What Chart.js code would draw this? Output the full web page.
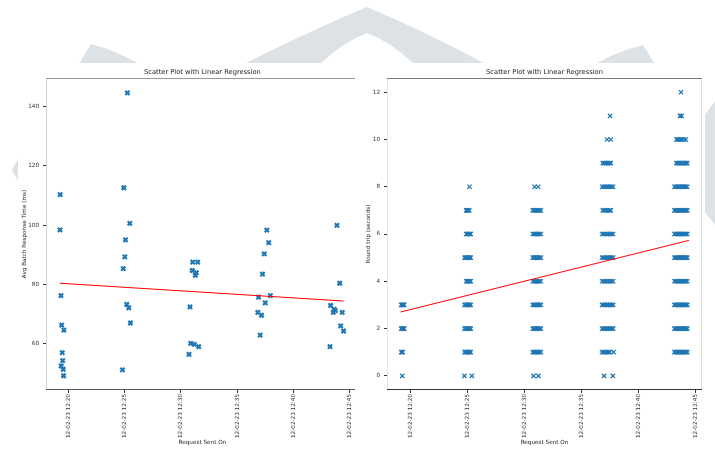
<!DOCTYPE html>
<html>
<head>
<meta charset="utf-8">
<script src="https://cdn.jsdelivr.net/npm/chart.js@4.4.1/dist/chart.umd.min.js"></script>
<style>
  html, body { margin: 0; padding: 0; background: #fff; }
  #page { position: relative; width: 715px; height: 450px; overflow: hidden; background: #fff; }
  #mark { position: absolute; left: 0; top: 0; }
  #left { position: absolute; left: 0; top: 0; }
  #right { position: absolute; left: 355px; top: 0; }
</style>
</head>
<body>
<div id="page">
  <svg id="mark" width="715" height="450" viewBox="0 0 715 450">
    <defs>
      <!-- the page backdrop only shows around the white sheet holding both plots -->
      <clipPath id="outside">
        <path clip-rule="evenodd" d="M0 0 H715 V450 H0 Z M18 63 V450 H705 V63 Z"/>
      </clipPath>
    </defs>
    <g fill="#dce2e5" clip-path="url(#outside)">
      <path d="M367 7 Q300 35 212 80 L305 80 Q335 45 367 33 Q399 45 429 80 L515 80 Q434 35 367 7 Z"/>
      <path d="M91 44 L74 72 L152 72 Q122 52 91 44 Z"/>
      <path d="M643 45 L660 72 L582 72 Q612 52 643 45 Z"/>
      <path d="M28 142 L11.7 170 L28 198 Z"/>
      <path d="M698 124 L716 100 L716 226 L698 204 Z"/>
    </g>
  </svg>
  <canvas id="left" width="365" height="450"></canvas>
  <canvas id="right" width="360" height="450"></canvas>
</div>
<script>
// Request times are minutes past 12:00 on 12-02-23.
const timeTicks = [20, 25, 30, 35, 40, 45];
const timeTickLabels = ['12-02-23 12:20', '12-02-23 12:25', '12-02-23 12:30',
                        '12-02-23 12:35', '12-02-23 12:40', '12-02-23 12:45'];

// Average batch response time per request (ms)
const batchSentAt = [
  19.29, 19.27, 19.36, 19.42, 19.62, 19.47, 19.51, 19.38, 19.56, 19.59,
  25.26, 24.94, 25.47, 25.09, 25.03, 24.89, 25.20, 25.38, 25.53, 24.82,
  31.06, 31.50, 31.02, 31.38, 31.29, 30.82, 30.88, 31.20, 31.59, 30.73,
  37.64, 37.81, 37.41, 37.26, 36.90, 37.96, 37.50, 36.84, 37.17, 37.05,
  43.87, 44.11, 43.31, 43.72, 43.54, 43.62, 44.34, 44.20, 44.46, 43.25
];
const batchAvgMs = [
  110.3, 98.4, 76.2, 66.3, 64.6, 57.0, 54.3, 52.5, 51.4, 49.2,
  144.6, 112.6, 100.6, 95.0, 89.3, 85.3, 73.3, 72.1, 67.0, 51.2,
  87.5, 87.5, 84.7, 84.0, 83.1, 72.4, 60.1, 59.8, 59.0, 56.4,
  98.3, 94.1, 90.3, 83.5, 75.7, 76.2, 73.8, 70.6, 69.6, 62.9,
  99.9, 80.4, 72.9, 71.2, 70.6, 71.6, 70.6, 66.0, 64.3, 59.0
];
const batchFitAt = [19.27, 44.46];
const batchFitMs = [80.4, 74.4];
const batchTicks = [60, 80, 100, 120, 140];

// Request times within each burst
const burst1220 = [19.21, 19.27, 19.34, 19.41, 19.47];
const burst1225 = [24.77, 24.86, 24.95, 25.04, 25.13, 25.22, 25.31];
const burst1231 = [30.76, 30.88, 30.99, 31.11, 31.23, 31.34, 31.46];
const burst1237 = [36.84, 36.98, 37.12, 37.26, 37.40, 37.54, 37.67, 37.81];
const burst1244 = [43.19, 43.30, 43.42, 43.53, 43.64, 43.76, 43.87, 43.98, 44.10, 44.21, 44.32];

// Round trip (whole seconds) -> request times
const trip1220 = {
  3: burst1220,
  2: burst1220,
  1: [19.21, 19.27, 19.34],
  0: [19.30]
};
const trip1225 = {
  8: [25.20],
  7: [24.91, 25.00, 25.09, 25.18],
  6: [24.91, 25.00, 25.09, 25.18, 25.27, 25.31],
  5: burst1225,
  4: [24.91, 25.00, 25.09, 25.18, 25.27, 25.31],
  3: burst1225,
  2: burst1225,
  1: burst1225,
  0: [24.76, 25.41]
};
const trip1231 = {
  8: [30.91, 31.23],
  7: burst1231, 6: burst1231, 5: burst1231, 4: burst1231,
  3: burst1231, 2: burst1231, 1: burst1231,
  0: [30.82, 31.25]
};
const trip1237 = {
  11: [37.54],
  10: [37.28, 37.60],
  9: [36.90, 37.05, 37.20, 37.35, 37.50, 37.60],
  8: burst1237,
  7: [36.90, 37.05, 37.20, 37.35, 37.50, 37.60],
  6: burst1237, 5: burst1237, 4: burst1237, 3: burst1237, 2: burst1237,
  1: [36.84, 36.98, 37.12, 37.26, 37.40, 37.50, 37.84],
  0: [37.02, 37.78]
};
const trip1244 = {
  12: [43.77],
  11: [43.68, 43.82],
  10: [43.36, 43.48, 43.60, 43.72, 43.84, 44.02, 44.20],
  9: [43.36, 43.48, 43.60, 43.72, 43.84, 43.97, 44.10, 44.21, 44.32],
  8: burst1244, 7: burst1244, 6: burst1244, 5: burst1244,
  4: burst1244, 3: burst1244, 2: burst1244, 1: burst1244
};
const tripBursts = [trip1220, trip1225, trip1231, trip1237, trip1244];
const tripFitAt = [19.15, 44.46];
const tripFitSec = [2.70, 5.73];
const tripTicks = [0, 2, 4, 6, 8, 10, 12];

const FONT = 'DejaVu Sans, Liberation Sans, sans-serif';
const BLUE = '#1f77b4';

const batchPoints = batchSentAt.map((t, i) => ({ x: t, y: batchAvgMs[i] }));
const tripPoints = [];
tripBursts.forEach(b => Object.keys(b).forEach(sec =>
  b[sec].forEach(t => tripPoints.push({ x: t, y: Number(sec) }))));
const pairs = (xs, ys) => xs.map((x, i) => ({ x, y: ys[i] }));

// matplotlib-like frame, each spine with its own tone
function framePlugin(c) {
  return {
    id: 'frame',
    beforeDraw(chart) {
      const { ctx, width, height } = chart;
      ctx.save();
      ctx.fillStyle = '#ffffff';
      ctx.fillRect(c.sheetLeft, 63, width - c.sheetLeft - c.sheetRight, height - 63);
      ctx.restore();
    },
    afterDatasetsDraw(chart) {
      const { ctx, chartArea: a } = chart;
      const L = Math.round(a.left) + 0.5, R = Math.round(a.right) - 0.5;
      const T = Math.round(a.top) + 0.5, B = Math.round(a.bottom) - 0.5;
      const seg = (x1, y1, x2, y2, col) => {
        ctx.beginPath(); ctx.moveTo(x1, y1); ctx.lineTo(x2, y2);
        ctx.strokeStyle = col; ctx.lineWidth = 1; ctx.stroke();
      };
      ctx.save();
      seg(L, T, L, B, c.left);
      seg(R, T, R, B, c.right);
      seg(L - 0.5, T, R + 0.5, T, c.top);
      seg(L - 0.5, B, R + 0.5, B, c.bottom);
      ctx.restore();
    }
  };
}

function makeChart(el, o) {
  return new Chart(el, {
    type: 'scatter',
    data: {
      datasets: [
        {
          data: o.fit, showLine: true, borderColor: '#ff0000', borderWidth: 1,
          pointRadius: 0, fill: false
        },
        {
          data: o.points, pointStyle: 'crossRot', pointRadius: o.radius,
          pointBorderWidth: o.stroke, borderColor: BLUE, backgroundColor: BLUE,
          pointBorderColor: BLUE
        }
      ]
    },
    options: {
      responsive: false,
      animation: false,
      events: [],
      layout: { padding: { left: 0, right: o.padRight, top: 0, bottom: 0 } },
      plugins: {
        legend: { display: false },
        tooltip: { enabled: false },
        title: {
          display: true, fullSize: false, text: 'Scatter Plot with Linear Regression',
          color: '#222', font: { family: FONT, size: 6.7, weight: 'normal' },
          padding: { top: 68.3, bottom: 1.7 }
        }
      },
      scales: {
        x: {
          type: 'linear', position: 'bottom', min: o.xMin, max: o.xMax,
          afterBuildTicks: s => { s.ticks = timeTicks.map(v => ({ value: v })); },
          afterFit: s => { s.height = 60; },
          ticks: {
            autoSkip: false, minRotation: 90, maxRotation: 90, padding: 1,
            color: '#333', font: { family: FONT, size: 5.7 },
            callback: v => timeTickLabels[timeTicks.indexOf(v)]
          },
          grid: { display: true, drawOnChartArea: false, drawTicks: true, tickLength: 3, color: '#333' },
          border: { display: false },
          title: {
            display: true, text: 'Request Sent On', color: '#222',
            font: { family: FONT, size: 5.7 }, padding: { top: 0, bottom: 3.6 }
          }
        },
        y: {
          type: 'linear', position: 'left', min: o.yMin, max: o.yMax,
          afterBuildTicks: s => { s.ticks = o.yTicks.map(v => ({ value: v })); },
          afterFit: s => { s.width = o.yWidth; },
          ticks: { padding: 4, color: '#333', font: { family: FONT, size: 5.7 } },
          grid: { display: true, drawOnChartArea: false, drawTicks: true, tickLength: 3, color: '#333' },
          border: { display: false },
          title: {
            display: true, text: o.yTitle, color: '#222',
            font: { family: FONT, size: 5.7 }, padding: { top: o.yTitlePad, bottom: 0 }
          }
        }
      }
    },
    plugins: [framePlugin(o.spines)]
  });
}

makeChart(document.getElementById('left'), {
  points: batchPoints,
  fit: pairs(batchFitAt, batchFitMs),
  radius: 3, stroke: 2.2,
  xMin: 18.03, xMax: 45.81, yMin: 44.4, yMax: 149.6,
  yTicks: batchTicks, yWidth: 46, yTitlePad: 21.6, padRight: 4,
  yTitle: 'Avg Batch Response Time (ms)',
  spines: { left: '#d2d2d2', right: '#d8d8d8', top: '#9a9a9a', bottom: '#555555',
            sheetLeft: 18, sheetRight: 0 }
});

makeChart(document.getElementById('right'), {
  points: tripPoints,
  fit: pairs(tripFitAt, tripFitSec),
  radius: 3, stroke: 1.3,
  xMin: 17.96, xMax: 45.61, yMin: -0.6, yMax: 12.6,
  yTicks: tripTicks, yWidth: 32, yTitlePad: 10.6, padRight: 13,
  yTitle: 'Round trip (seconds)',
  spines: { left: '#e4e4e4', right: '#dcdcdc', top: '#7a7a7a', bottom: '#333333',
            sheetLeft: 0, sheetRight: 10 }
});
</script>
</body>
</html>
